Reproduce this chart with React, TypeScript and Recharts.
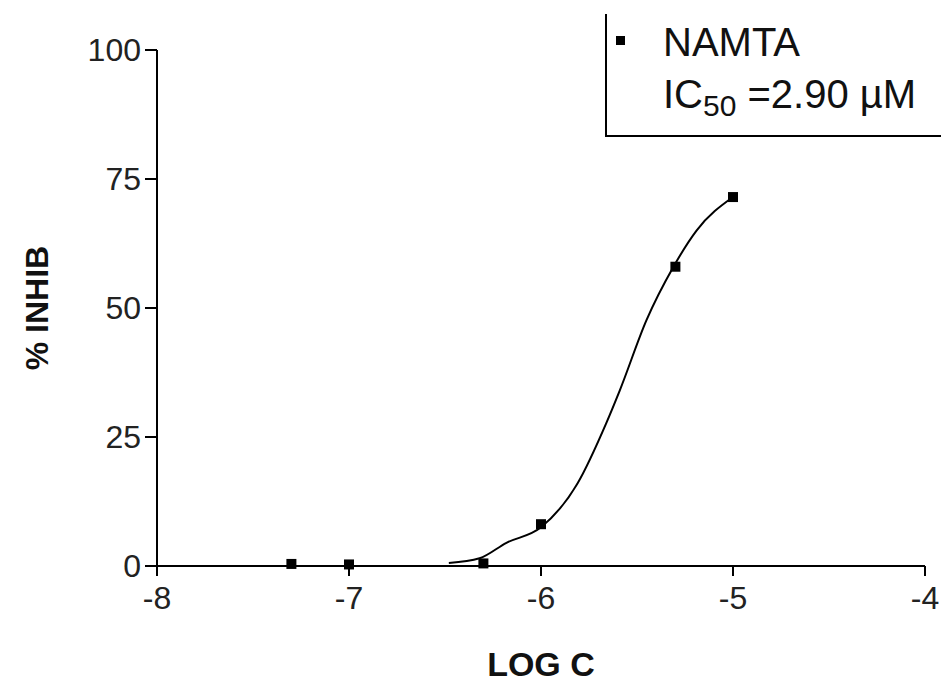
import {
  ComposedChart,
  Line,
  Scatter,
  XAxis,
  YAxis,
} from "recharts";

// measured points (log concentration vs % inhibition)
const logC = [-7.3, -7, -6.3, -6, -5.3, -5];
const inhib = [0.4, 0.3, 0.5, 8.1, 58, 71.5];

// fitted curve
const fitLogC = [-6.48, -6.32, -6.18, -6.0, -5.81, -5.66, -5.59, -5.45, -5.31, -5.19, -5.0];
const fitInhib = [0.6, 1.5, 4.5, 7.5, 16, 27.7, 34, 47.7, 58, 65, 71.5];

const xTicks = [-8, -7, -6, -5, -4];
const yTicks = [0, 25, 50, 75, 100];

const points = logC.map((x, i) => ({ x, y: inhib[i] }));
const fit = fitLogC.map((x, i) => ({ x, y: fitInhib[i] }));

const font = "'Liberation Sans', Arial, sans-serif";

const Square = (props: any) => {
  const { cx, cy } = props;
  return <rect x={cx - 5} y={cy - 5} width={10} height={10} fill="#000" />;
};

function LegendBox() {
  return (
    <div
      style={{
        position: "absolute",
        left: 605,
        top: 14,
        width: 336,
        height: 121,
        borderLeft: "2px solid #000",
        borderBottom: "2px solid #000",
        fontFamily: font,
        fontSize: 40,
        color: "#111",
      }}
    >
      <div
        style={{
          position: "absolute",
          left: 9,
          top: 22,
          width: 9,
          height: 9,
          background: "#000",
        }}
      />
      <div style={{ position: "absolute", left: 56, top: 6, lineHeight: "44px" }}>
        NAMTA
      </div>
      <div style={{ position: "absolute", left: 56, top: 58, lineHeight: "44px", whiteSpace: "nowrap" }}>
        IC<span style={{ fontSize: 30, position: "relative", top: 8 }}>50</span> =2.90 µM
      </div>
    </div>
  );
}

export default function App() {
  return (
    <div style={{ position: "absolute", left: 0, top: 0, width: 941, height: 686, background: "#fff" }}>
      <ComposedChart
        width={941}
        height={686}
        margin={{ top: 50, right: 16, bottom: 90, left: 97 }}
      >
        <XAxis
          type="number"
          dataKey="x"
          domain={[-8, -4]}
          ticks={xTicks}
          allowDataOverflow
          height={30}
          stroke="#000"
          strokeWidth={2}
          tickSize={10}
          tickMargin={10}
          tickLine={{ stroke: "#000", strokeWidth: 2 }}
          tick={{ fill: "#222", fontSize: 32, fontFamily: font }}
          label={{
            value: "LOG C",
            position: "bottom",
            offset: 56,
            style: { fill: "#111", fontSize: 34, fontWeight: "bold", fontFamily: font },
          }}
        />
        <YAxis
          type="number"
          dataKey="y"
          width={60}
          domain={[0, 100]}
          ticks={yTicks}
          stroke="#000"
          strokeWidth={2}
          tickSize={12}
          tickMargin={4}
          tickLine={{ stroke: "#000", strokeWidth: 2 }}
          tick={{ fill: "#222", fontSize: 32, fontFamily: font }}
          label={{
            value: "% INHIB",
            angle: -90,
            position: "left",
            offset: 60,
            style: { fill: "#111", fontSize: 32, fontWeight: "bold", fontFamily: font, textAnchor: "middle" },
          }}
        />
        <Line
          data={fit}
          dataKey="y"
          type="monotone"
          stroke="#000"
          strokeWidth={2}
          dot={false}
          legendType="none"
          isAnimationActive={false}
        />
        <Scatter
          data={points}
          dataKey="y"
          fill="#000"
          shape={Square}
          isAnimationActive={false}
        />
      </ComposedChart>
      <LegendBox />
    </div>
  );
}
